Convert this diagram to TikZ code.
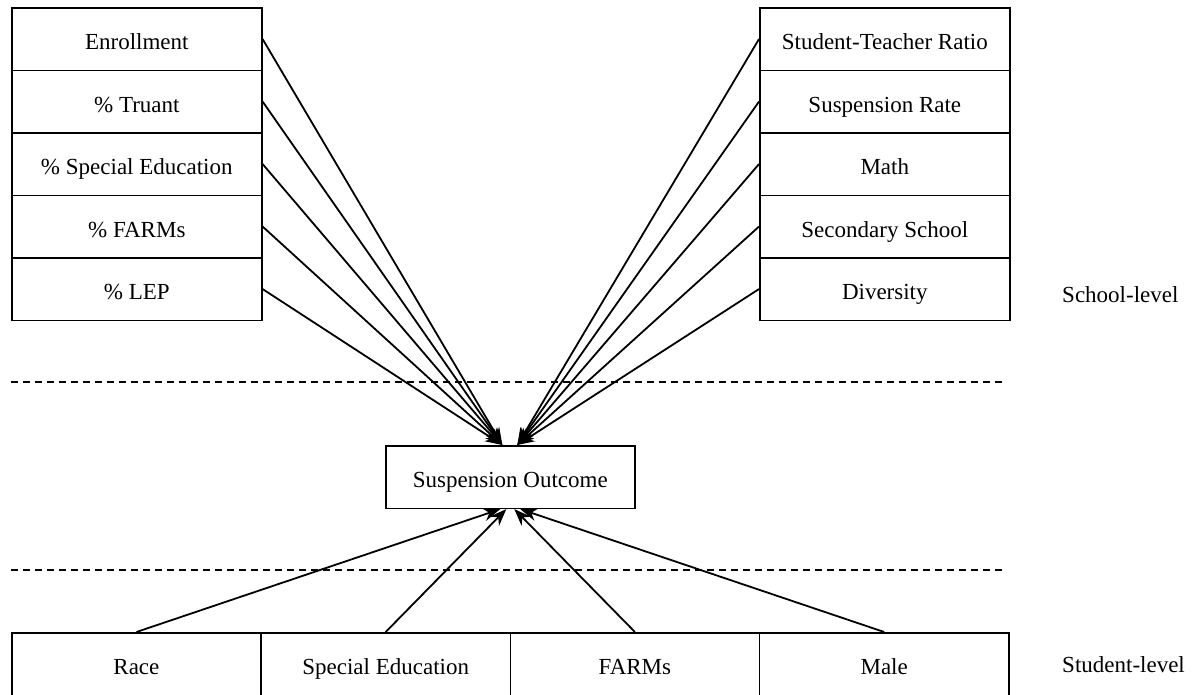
\documentclass[tikz,border=0pt]{standalone}
\usepackage{fontspec}
\setmainfont{Liberation Serif}
\usetikzlibrary{arrows.meta}
\begin{document}
\begin{tikzpicture}[x=1pt,y=-1pt,
  varbox/.style={draw,line width=1.6pt,minimum width=250pt,minimum height=62.5pt,inner sep=0pt,text height=23pt,text depth=2pt,font=\fontsize{23}{26}\selectfont,anchor=north west},
  botbox/.style={varbox,minimum width=249.25pt},
  lvl/.style={font=\fontsize{23}{26}\selectfont,anchor=west,inner sep=0pt},
  conn/.style={line width=1.8pt,-{Stealth[length=17pt,width=13pt]}},
  sep/.style={line width=1.6pt,dash pattern=on 7pt off 5pt}]
\useasboundingbox (0,0) rectangle (1196,694);
% left school-level boxes
\node[varbox] (l1) at (11,7) {Enrollment};
\node[varbox] (l2) at (11,69.5) {\% Truant};
\node[varbox] (l3) at (11,132) {\% Special Education};
\node[varbox] (l4) at (11,194.5) {\% FARMs};
\node[varbox] (l5) at (11,257) {\% LEP};
% right school-level boxes
\node[varbox] (r1) at (759,7) {Student-Teacher Ratio};
\node[varbox] (r2) at (759,69.5) {Suspension Rate};
\node[varbox] (r3) at (759,132) {Math};
\node[varbox] (r4) at (759,194.5) {Secondary School};
\node[varbox] (r5) at (759,257) {Diversity};
% outcome
\node[varbox,minimum width=249pt] (so) at (385,445) {Suspension Outcome};
% student-level boxes
\node[botbox] (b1) at (11,632) {Race};
\node[botbox] (b2) at (260.25,632) {Special Education};
\node[botbox] (b3) at (509.5,632) {FARMs};
\node[botbox] (b4) at (758.75,632) {Male};
% level labels
\node[lvl] (sl) at (1062,295) {School-level};
\node[lvl] (stl) at (1062,665) {Student-level};
% dashed separators
\coordinate (d1a) at (11,382); \coordinate (d1b) at (1003,382);
\coordinate (d2a) at (11,570); \coordinate (d2b) at (1003,570);
\draw[sep] (d1a) -- (d1b);
\draw[sep] (d2a) -- (d2b);
% targets
\coordinate (tl) at ([xshift=-8pt]so.north);
\coordinate (tr) at ([xshift=7pt]so.north);
\foreach \n in {l1,l2,l3,l4,l5} \draw[conn] (\n.east) -- (tl);
\foreach \n in {r1,r2,r3,r4,r5} \draw[conn] (\n.west) -- (tr);
\draw[conn] (b1.north) -- ([xshift=-10pt]so.south);
\draw[conn] (b2.north) -- ([xshift=-4pt]so.south);
\draw[conn] (b3.north) -- ([xshift=4pt]so.south);
\draw[conn] (b4.north) -- ([xshift=10pt]so.south);
\end{tikzpicture}
\end{document}
